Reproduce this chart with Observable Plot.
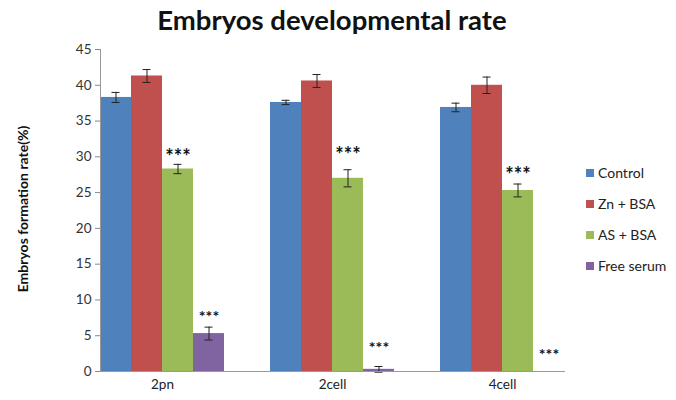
<!DOCTYPE html>
<html>
<head>
<meta charset="utf-8">
<script src="https://cdn.jsdelivr.net/npm/d3@7"></script>
<script src="https://cdn.jsdelivr.net/npm/@observablehq/plot@0.6"></script>
<style>
  html, body { margin: 0; padding: 0; background: #fff; }
  #wrap { position: relative; width: 676px; height: 400px; font-family: Lato, "Open Sans", sans-serif; }
  #title { position: absolute; left: 0; width: 664px; top: 3px; text-align: center; font-size: 27.5px; font-weight: bold; color: #111; line-height: 34px; }
  #chart { position: absolute; left: 0; top: 40px; }
  #legend { position: absolute; left: 586px; top: 157px; font-size: 14px; color: #222; }
  #legend .item { height: 31px; line-height: 18px; display: flex; align-items: center; }
  #legend .sw { width: 8px; height: 8px; margin-right: 4px; display: inline-block; }
  #ylabel { position: absolute; left: 22px; top: 209px; transform: translate(-50%, -50%) rotate(-90deg); white-space: nowrap; font-size: 14px; font-weight: bold; color: #111; }
</style>
</head>
<body>
<div id="wrap">
  <div id="title">Embryos developmental rate</div>
  <div id="chart"></div>
  <div id="legend"></div>
  <div id="ylabel"></div>
</div>
<script>
const stages = ["2pn", "2cell", "4cell"];
const groups = ["Control", "Zn + BSA", "AS + BSA", "Free serum"];
const colors = ["#4F81BD", "#C0504D", "#9BBB59", "#8064A2"];
const yLabel = "Embryos formation rate(%)";

const control   = [38.3, 37.6, 36.9];
const znBsa     = [41.3, 40.6, 40.0];
const asBsa     = [28.3, 27.0, 25.3];
const freeSerum = [5.3, 0.3, 0];

const controlErr   = [0.7, 0.3, 0.6];
const znBsaErr     = [0.9, 0.9, 1.15];
const asBsaErr     = [0.65, 1.2, 0.9];
const freeSerumErr = [0.9, 0.4, 0];

const sigLabel = "***";
const asStarY   = [30.5, 30.7, 28.0];
const freeStarY = [8.2, 3.8, 2.9];

const yTicks = [0, 5, 10, 15, 20, 25, 30, 35, 40, 45];

const values = [control, znBsa, asBsa, freeSerum];
const errs = [controlErr, znBsaErr, asBsaErr, freeSerumErr];
const rows = stages.flatMap((s, i) => groups.map((g, j) => ({
  stage: s, group: g, value: values[j][i], err: errs[j][i]
})));
const errRows = rows.filter(d => d.err > 0);
const stars = stages.flatMap((s, i) => [
  {stage: s, group: "AS + BSA", y: asStarY[i], size: 20},
  {stage: s, group: "Free serum", y: freeStarY[i], size: 16}
]);

const step = 170;
const plot = Plot.plot({
  width: 676,
  height: 360,
  marginLeft: 77,
  marginRight: 89,
  marginTop: 9,
  marginBottom: 29,
  style: { fontFamily: "Lato, 'Open Sans', sans-serif", fontSize: "13.5px", color: "#333", background: "#fff" },
  fx: { domain: stages, paddingInner: 46 / step, paddingOuter: 23 / step, label: null },
  x: { domain: groups, padding: 0, axis: null },
  y: { domain: [0, 45] },
  color: { domain: groups, range: colors },
  marks: [
    Plot.barY(rows, { fx: "stage", x: "group", y: "value", fill: "group" }),
    Plot.ruleX(errRows, { fx: "stage", x: "group", y1: d => d.value - d.err, y2: d => d.value + d.err, stroke: "#222", strokeWidth: 1 }),
    Plot.tickY(errRows, { fx: "stage", x: "group", y: d => d.value - d.err, stroke: "#222", insetLeft: 11.5, insetRight: 11.5 }),
    Plot.tickY(errRows, { fx: "stage", x: "group", y: d => d.value + d.err, stroke: "#222", insetLeft: 11.5, insetRight: 11.5 }),
    Plot.text(stars, { fx: "stage", x: "group", y: "y", text: () => sigLabel, fontSize: d => d.size, fontWeight: "bold", fill: "#111", lineAnchor: "middle", dy: 4 }),
    Plot.axisY({ ticks: yTicks, tickSize: 5, tickPadding: 4, stroke: "#888", label: null, fill: "#333", fontSize: 13.5 }),
    Plot.axisFx({ anchor: "bottom", tickSize: 0, tickPadding: 8, label: null, fontSize: 13.5, fill: "#222" }),
    Plot.frame({ anchor: "bottom", facet: "super", stroke: "#999" }),
    Plot.frame({ anchor: "left", facet: "super", stroke: "#999" })
  ]
});
document.getElementById("chart").appendChild(plot);
document.getElementById("ylabel").textContent = yLabel;

const legend = document.getElementById("legend");
groups.forEach((g, i) => {
  const item = document.createElement("div");
  item.className = "item";
  const sw = document.createElement("span");
  sw.className = "sw";
  sw.style.background = colors[i];
  item.appendChild(sw);
  item.appendChild(document.createTextNode(g));
  legend.appendChild(item);
});
</script>
</body>
</html>
